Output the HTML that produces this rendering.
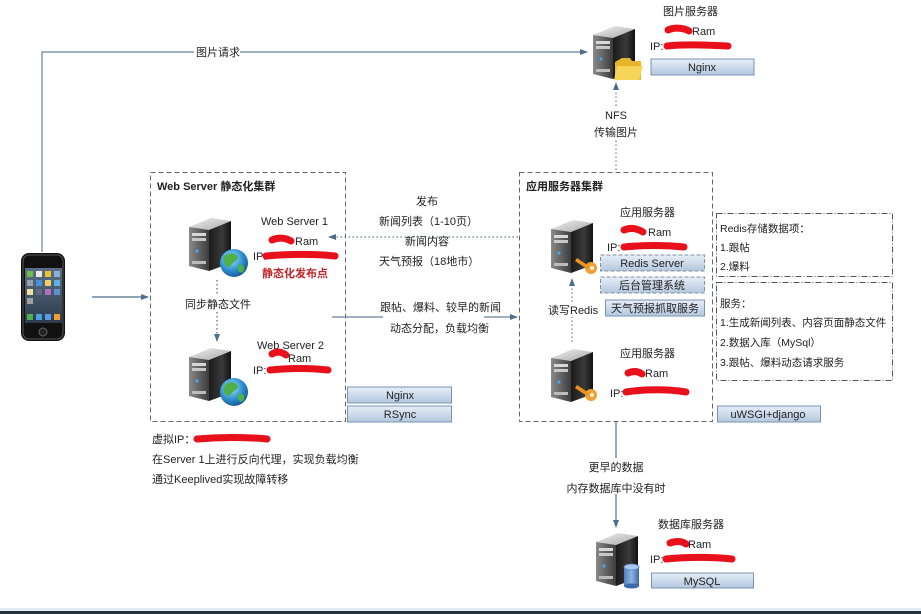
<!DOCTYPE html>
<html><head><meta charset="utf-8"><style>
html,body{margin:0;padding:0;background:#fff;}
svg{display:block;}
text{font-family:"Liberation Sans","Noto Sans CJK SC",sans-serif;font-size:11px;fill:#222;}
.b{font-weight:bold;}
.c{text-anchor:middle;}
.s{font-size:10.5px;}
.bx{fill:url(#bar);stroke:#7a93b4;stroke-width:1;}
.sc{stroke:#e8101a;stroke-width:7;stroke-linecap:round;fill:none;}
</style></head><body>
<svg width="921" height="614" viewBox="0 0 921 614" xmlns="http://www.w3.org/2000/svg">
<defs>
<linearGradient id="bar" x1="0" y1="0" x2="0" y2="1"><stop offset="0" stop-color="#e6eef8"/><stop offset="1" stop-color="#b4c7de"/></linearGradient>
<linearGradient id="top" x1="0" y1="0" x2="1" y2="1"><stop offset="0" stop-color="#f2f2f2"/><stop offset="1" stop-color="#a8a8a8"/></linearGradient>
<linearGradient id="front" x1="0" y1="0" x2="1" y2="0"><stop offset="0" stop-color="#8a8a8a"/><stop offset="1" stop-color="#3c3c3c"/></linearGradient>
<linearGradient id="side" x1="0" y1="0" x2="1" y2="0"><stop offset="0" stop-color="#1a1a1a"/><stop offset="0.6" stop-color="#3a3a3a"/><stop offset="1" stop-color="#111"/></linearGradient>
<radialGradient id="glb" cx="0.4" cy="0.35" r="0.7"><stop offset="0" stop-color="#9be4fb"/><stop offset="0.6" stop-color="#2d8fd0"/><stop offset="1" stop-color="#15528f"/></radialGradient>
<linearGradient id="cyl" x1="0" y1="0" x2="1" y2="0"><stop offset="0" stop-color="#4f82c0"/><stop offset="0.5" stop-color="#8fb5e0"/><stop offset="1" stop-color="#3b6aa8"/></linearGradient>
<linearGradient id="scr" x1="0" y1="0" x2="0" y2="1"><stop offset="0" stop-color="#5b6f86"/><stop offset="1" stop-color="#2c3a4c"/></linearGradient>
<marker id="ar" markerWidth="8" markerHeight="8" refX="7" refY="4" orient="auto" markerUnits="userSpaceOnUse"><path d="M0,1 L8,4 L0,7 Z" fill="#4d6e8c"/></marker>
<g id="srv">
<polygon points="2,12 24,3 44,6 22,15" fill="url(#top)"/>
<polygon points="2,12 22,15 22,56 2,51" fill="url(#front)"/>
<polygon points="22,15 44,6 44,48 22,56" fill="url(#side)"/>
<rect x="5" y="18" width="14" height="3" fill="#d8d8d8"/>
<rect x="5" y="23" width="14" height="3" fill="#c8c8c8"/>
<rect x="5" y="46" width="14" height="3" fill="#bcbcbc"/>
<circle cx="10" cy="36" r="1.6" fill="#4aa3e8"/>
</g>
<g id="globe">
<circle cx="0" cy="0" r="14" fill="url(#glb)"/>
<path d="M-10,-6 C-5,-12 3,-10 4,-5 C2,-1 -3,0 -4,4 C-8,4 -12,0 -10,-6Z" fill="#4fb04a"/>
<path d="M4,2 C9,0 12,4 9,9 C6,11 3,8 4,2Z" fill="#4fb04a"/>
</g>
<g id="key">
<circle cx="14" cy="10" r="6" fill="#f0a030"/>
<path d="M0,0 L12,8 L10,11 L-2,3 Z" fill="#e89420"/>
<circle cx="15" cy="10" r="2" fill="#fff3d8"/>
</g>
</defs>

<!-- top image request line -->
<path d="M42,252 V52 H587" fill="none" stroke="#6a8299" stroke-width="1.2" marker-end="url(#ar)"/>
<rect x="194" y="45" width="46" height="14" fill="#fff"/>
<text x="196" y="56">图片请求</text>

<!-- phone -->
<rect x="21" y="253" width="44" height="88" rx="8" fill="#111"/>
<rect x="23" y="255" width="40" height="84" rx="6" fill="none" stroke="#555" stroke-width="1"/>
<rect x="25" y="268" width="37" height="55" fill="url(#scr)"/>
<g>
<rect x="27" y="271" width="6" height="6" fill="#6cc04a"/><rect x="36" y="271" width="6" height="6" fill="#e8e8e8"/><rect x="45" y="271" width="6" height="6" fill="#f0c030"/><rect x="54" y="271" width="6" height="6" fill="#8ab0d8"/>
<rect x="27" y="280" width="6" height="6" fill="#9aa0a8"/><rect x="36" y="280" width="6" height="6" fill="#4a90d8"/><rect x="45" y="280" width="6" height="6" fill="#f0d060"/><rect x="54" y="280" width="6" height="6" fill="#5fb0e0"/>
<rect x="27" y="289" width="6" height="6" fill="#f0e0a0"/><rect x="36" y="289" width="6" height="6" fill="#606880"/><rect x="45" y="289" width="6" height="6" fill="#b070c0"/><rect x="54" y="289" width="6" height="6" fill="#6090d0"/>
<rect x="27" y="298" width="6" height="6" fill="#a0a0a0"/>
<rect x="27" y="314" width="6" height="6" fill="#50b050"/><rect x="36" y="314" width="6" height="6" fill="#4aa0e0"/><rect x="45" y="314" width="6" height="6" fill="#5a9ae0"/><rect x="54" y="314" width="6" height="6" fill="#f0a030"/>
</g>
<circle cx="43" cy="332" r="4" fill="#222" stroke="#666" stroke-width="1"/>

<!-- phone to web cluster -->
<path d="M92,297 H148" stroke="#4d6e8c" stroke-width="1.2" marker-end="url(#ar)"/>

<!-- image server -->
<use href="#srv" x="591" y="23"/>
<path d="M615,62 L622,58 L630,58 L632,61 L641,61 L641,80 L615,80 Z" fill="#e7b52c"/>
<path d="M617,66 L643,66 L639,80 L614,80 Z" fill="#f6d558"/>
<text x="663" y="15">图片服务器</text>
<path class="sc" d="M668,30 C675,27 684,28 689,31"/>
<text x="692" y="35">Ram</text>
<text x="650" y="50">IP:</text>
<path class="sc" d="M667,46 C685,44 705,45 728,46"/>
<rect x="651" y="59" width="103" height="16" class="bx"/>
<text x="702" y="71" class="c">Nginx</text>

<!-- NFS line -->
<path d="M616,170 V83" stroke="#6a7b8c" stroke-width="1.2" stroke-dasharray="1.5 2.5" fill="none" marker-end="url(#ar)"/>
<rect x="592" y="107" width="48" height="32" fill="#fff"/>
<text x="616" y="119" class="c">NFS</text>
<text x="616" y="136" class="c">传输图片</text>

<!-- Web cluster -->
<rect x="150.5" y="172.5" width="195" height="249" fill="none" stroke="#666" stroke-dasharray="5 3"/>
<text x="157" y="190" class="b">Web Server 静态化集群</text>
<use href="#srv" x="187" y="215"/>
<use href="#globe" x="234" y="263"/>
<text x="261" y="225">Web Server 1</text>
<path class="sc" d="M272,240 C279,237 286,238 291,241"/>
<text x="295" y="245">Ram</text>
<text x="253" y="260">IP:</text>
<path class="sc" d="M266,256 C290,254 315,254 335,256"/>
<text x="262" y="277" class="b" style="fill:#c0262a">静态化发布点</text>
<path d="M217,280 V341" stroke="#4d6e8c" stroke-width="1.2" stroke-dasharray="1.5 2.5" fill="none" marker-end="url(#ar)"/>
<rect x="183" y="296" width="67" height="15" fill="#fff"/>
<text x="185" y="308">同步静态文件</text>
<use href="#srv" x="187" y="345"/>
<use href="#globe" x="234" y="392"/>
<text x="257" y="349">Web Server 2</text>
<path class="sc" d="M272,354 C277,351 282,352 286,355"/>
<text x="288" y="362">Ram</text>
<text x="253" y="374">IP:</text>
<path class="sc" d="M270,370 C290,368 310,368 328,370"/>
<rect x="347.5" y="387" width="104" height="16" class="bx"/>
<text x="400" y="399" class="c">Nginx</text>
<rect x="347.5" y="406" width="104" height="16" class="bx"/>
<text x="400" y="418" class="c">RSync</text>
<text x="152" y="443">虚拟IP：</text>
<path class="sc" d="M197,439 C220,437 245,437 267,439"/>
<text x="152" y="463">在Server 1上进行反向代理，实现负载均衡</text>
<text x="152" y="483">通过Keeplived实现故障转移</text>

<!-- publish line -->
<path d="M518,237 H329" stroke="#6a7b8c" stroke-width="1.2" stroke-dasharray="1.5 2.5" fill="none" marker-end="url(#ar)"/>
<text x="427" y="205" class="c">发布</text>
<text x="379" y="225">新闻列表（1-10页）</text>
<text x="427" y="245" class="c">新闻内容</text>
<text x="379" y="265">天气预报（18地市）</text>

<!-- dynamic line -->
<path d="M332,317 H383" stroke="#6a8299" stroke-width="1.2"/>
<path d="M484,317 H517" stroke="#6a8299" stroke-width="1.2" marker-end="url(#ar)"/>
<text x="380" y="311">跟帖、爆料、较早的新闻</text>
<text x="390" y="332">动态分配，负载均衡</text>

<!-- App cluster -->
<rect x="519.5" y="172.5" width="193" height="249" fill="none" stroke="#666" stroke-dasharray="5 3"/>
<text x="526" y="190" class="b">应用服务器集群</text>
<use href="#srv" x="549" y="217"/>
<use href="#key" x="577" y="258"/>
<text x="620" y="216">应用服务器</text>
<path class="sc" d="M624,230 C631,227 638,229 643,232"/>
<text x="648" y="236">Ram</text>
<text x="607" y="251">IP:</text>
<path class="sc" d="M624,247 C645,245 665,245 684,247"/>
<rect x="600.5" y="255" width="104" height="16" class="bx" style="stroke-dasharray:4 2;stroke:#8090a0"/>
<text x="652" y="267" class="c">Redis Server</text>
<rect x="600.5" y="277" width="104" height="16" class="bx" style="stroke-dasharray:4 2;stroke:#8090a0"/>
<text x="652" y="289" class="c">后台管理系统</text>
<rect x="605.5" y="300" width="99" height="16" class="bx"/>
<text x="655" y="312" class="c">天气预报抓取服务</text>
<path d="M572,342 V279" stroke="#6a7b8c" stroke-width="1.2" stroke-dasharray="1.5 2.5" fill="none" marker-end="url(#ar)"/>
<rect x="546" y="303" width="50" height="14" fill="#fff"/>
<text x="548" y="314">读写Redis</text>
<use href="#srv" x="549" y="346"/>
<use href="#key" x="577" y="385"/>
<text x="620" y="357">应用服务器</text>
<path class="sc" d="M628,373 C633,371 638,371 642,374"/>
<text x="645" y="377">Ram</text>
<text x="610" y="397">IP:</text>
<path class="sc" d="M626,392 C645,389 668,389 686,392"/>
<rect x="717.5" y="406" width="103" height="16" class="bx"/>
<text x="768" y="418" class="c">uWSGI+django</text>

<!-- right notes -->
<rect x="716.5" y="213.5" width="176" height="63" fill="none" stroke="#555" stroke-dasharray="6 2 1 2"/>
<text x="720" y="232" class="s">Redis存储数据项：</text>
<text x="720" y="251" class="s">1.跟帖</text>
<text x="720" y="270" class="s">2.爆料</text>
<rect x="716.5" y="282.5" width="176" height="98" fill="none" stroke="#555" stroke-dasharray="6 2 1 2"/>
<text x="720" y="307" class="s">服务：</text>
<text x="720" y="326" class="s">1.生成新闻列表、内容页面静态文件</text>
<text x="720" y="346" class="s">2.数据入库（MySql）</text>
<text x="720" y="366" class="s">3.跟帖、爆料动态请求服务</text>

<!-- to DB -->
<path d="M616,422 V527" stroke="#4d6e8c" stroke-width="1.2" fill="none" marker-end="url(#ar)"/>
<rect x="565" y="458" width="100" height="36" fill="#fff"/>
<text x="616" y="471" class="c">更早的数据</text>
<text x="616" y="492" class="c">内存数据库中没有时</text>

<!-- DB server -->
<use href="#srv" x="594" y="530"/>
<rect x="624" y="567" width="15" height="19" fill="url(#cyl)"/>
<ellipse cx="631.5" cy="586" rx="7.5" ry="2.5" fill="#3b6aa8"/>
<ellipse cx="631.5" cy="567" rx="7.5" ry="3" fill="#a9c8ec" stroke="#4f82c0" stroke-width="0.8"/>
<text x="658" y="528">数据库服务器</text>
<path class="sc" d="M670,543 C676,541 682,541 686,544"/>
<text x="688" y="548">Ram</text>
<text x="650" y="563">IP:</text>
<path class="sc" d="M666,559 C688,557 712,557 732,559"/>
<rect x="651.5" y="573" width="102" height="15" class="bx"/>
<text x="702" y="585" class="c">MySQL</text>

<!-- bottom strip -->
<rect x="0" y="608" width="921" height="3" fill="#e4ecf2"/>
<rect x="0" y="611" width="921" height="3" fill="#23313e"/>
</svg>
</body></html>
